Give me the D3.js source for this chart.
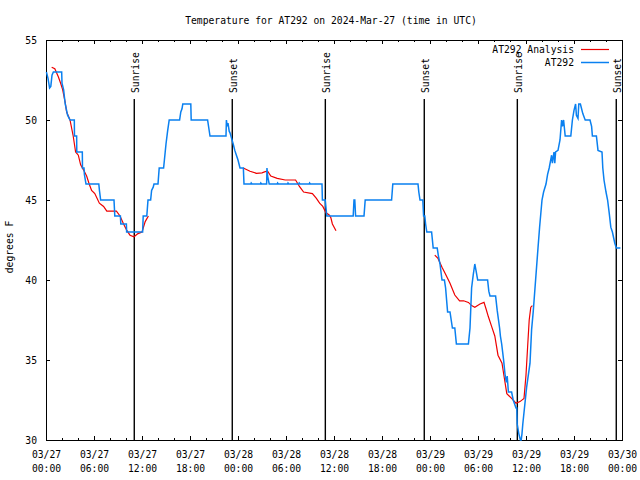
<!DOCTYPE html>
<html><head><meta charset="utf-8">
<script src="https://cdn.jsdelivr.net/npm/d3@7"></script>
<style>
body{margin:0;background:#fff;}
text{font-family:"DejaVu Sans Mono",monospace;font-size:9.7px;fill:#000;}
</style></head>
<body><svg id="c" width="640" height="480"></svg>
<script>
// ---- data ----
const titleText = "Temperature for AT292 on 2024-Mar-27 (time in UTC)";
const yLabelText = "degrees F";
const startTime = "2024-03-27T00:00Z";
const endTime = "2024-03-30T00:00Z";
const yTicks = [30, 35, 40, 45, 50, 55];
const seriesNames = ["AT292 Analysis", "AT292"];
const sunLabels = ["Sunrise", "Sunset", "Sunrise", "Sunset", "Sunrise", "Sunset"];
const sunTimes = ["2024-03-27T11:02Z", "2024-03-27T23:17Z", "2024-03-28T10:55Z",
                  "2024-03-28T23:17Z", "2024-03-29T10:55Z", "2024-03-29T23:17Z"];
// observations: [hours since start, deg F]
const obs = [
 [0.05,53],[0.25,52.6],[0.45,52],[0.6,52.1],[0.75,52.8],[0.92,53],[1.96,53],[2.0,52.3],[2.2,51.9],
 [2.4,51],[2.7,50.3],[3.0,50],[3.54,50],[3.56,49],[3.83,49],[3.85,48],[4.54,48],[4.56,47],[4.75,47],
 [4.8,46.6],[5.0,46],[6.6,46],[6.68,45.6],[6.83,45],[8.5,45],[8.55,44.5],[8.6,44],[9.3,44],[9.35,43.5],
 [10.05,43.5],[10.08,43],[12.08,43],[12.15,44],[12.6,44],[12.75,45],[13.08,45],[13.2,45.6],[13.4,45.8],
 [13.5,46],[14.0,46],[14.15,47],[14.7,47],[14.8,47.5],[14.9,48],[15.0,48.5],[15.2,49.3],[15.4,50],
 [16.7,50],[16.85,50.5],[17.0,50.7],[17.1,51],[18.1,51],[18.15,50],[20.2,50],[20.35,49.5],[20.5,49],
 [22.5,49],[22.55,50],[22.65,49.6],[22.75,49.8],[22.9,49.3],[23.0,49.2],[23.2,48.85],[23.4,48.5],
 [23.6,48.1],[23.8,47.8],[24.0,47.5],[24.25,47],[24.67,47],[24.75,46],[25.6,46],[25.65,46.06],[25.75,46],
 [26.8,46],[26.85,46.06],[26.95,46],[27.58,46],[27.62,47],[27.7,46.5],[27.9,46],[28.9,46],[28.95,46.06],
 [29.05,46],[30.2,46],[30.25,46.06],[30.35,46],[31.6,46],[31.65,46.06],[31.75,46],[32.9,46],[32.95,46.06],
 [33.05,46],[34.5,46],[34.55,45],[34.9,45],[35.0,44.5],[35.1,44],[38.4,44],[38.5,45],[38.6,45],[38.7,44],
 [39.75,44],[39.9,45],[43.2,45],[43.35,46],[46.5,46],[46.6,45.5],[46.75,45],[47.1,45],[47.2,44],[47.35,44],
 [47.45,43.5],[47.6,43],[48.2,43],[48.4,42],[48.9,42],[49.05,41.5],[49.25,41],[49.5,40],[49.8,40],
 [49.95,39.5],[50.2,38],[50.5,38],[50.65,37.5],[50.8,37],[51.1,37],[51.3,36],[52.8,36],[53.0,37],
 [53.2,39.5],[53.4,40.3],[53.6,41],[53.75,40.6],[53.96,40],[55.2,40],[55.35,39.3],[55.5,39],[56.2,39],
 [56.4,38.1],[56.7,37],[56.8,36.5],[56.96,36],[57.2,35],[57.4,34],[57.55,33.6],[57.65,34],[57.8,33],
 [58.2,33],[58.4,32.5],[58.75,32],[58.85,32],[58.9,31],[59.1,30.4],[59.3,30],[59.4,30],[59.5,30.4],
 [59.6,31],[60.08,33.3],[60.5,34.8],[60.7,36.9],[60.9,38],[61.2,40],[61.5,42],[61.7,43.3],[62.0,45],
 [62.2,45.5],[62.5,46],[62.7,46.6],[62.9,47],[63.2,47.8],[63.3,47.3],[63.5,48],[63.6,47.3],[63.7,48],
 [64.0,48.1],[64.25,48.75],[64.45,50],[64.55,49.6],[64.7,50],[64.9,49],[65.6,49],[65.8,50],[66.0,50.6],
 [66.2,51],[66.3,50.3],[66.5,50.1],[66.6,51],[66.8,51],[66.9,50.8],[67.1,50.4],[67.4,50],[68.0,50],
 [68.2,49.6],[68.3,49],[68.8,49],[69.0,48.1],[69.5,48],[69.6,47],[69.75,46.25],[70.0,45.5],[70.2,45],
 [70.4,44.2],[70.6,43.3],[70.8,43],[71.1,42.3],[71.3,42],[71.8,42]
];
// analysis segments: [hours since start, deg F]
const analysis1 = [
 [0.71,53.3],[1.1,53.2],[1.54,52.7],[1.83,52.3],[2.08,51.9],[2.4,51.1],[2.58,50.5],[3.0,50],[3.4,49],
 [3.7,48],[4.04,47.8],[4.33,47.2],[4.67,46.9],[5.08,46.5],[5.4,46],[5.7,45.6],[6.1,45.4],[6.67,44.8],
 [7.2,44.6],[7.6,44.3],[8.2,44.3],[8.8,44.3],[9.25,44],[9.7,43.5],[10.1,43.1],[10.5,42.8],[11.0,42.7],
 [11.5,42.9],[12.0,43],[12.4,43.65],[12.8,44]
];
const analysis2 = [
 [24.66,47],[25.5,46.8],[26.3,46.67],[27.0,46.7],[27.4,46.77],[27.7,46.8],[28.1,46.5],[28.9,46.35],
 [29.9,46.25],[31.2,46.25],[31.7,45.83],[32.2,45.5],[33.3,45.4],[33.8,45.1],[34.2,44.8],[34.6,44.6],
 [35.0,44.2],[35.4,44.06],[35.6,43.9],[35.8,43.5],[36.25,43.08]
];
const analysis3 = [
 [48.6,41.56],[49.0,41.35],[49.5,40.8],[49.9,40.4],[50.5,39.8],[51.1,39.06],[51.7,38.7],[52.2,38.7],
 [52.8,38.6],[53.2,38.4],[53.6,38.3],[54.25,38.5],[54.75,38.6],[55.0,38.2],[55.3,37.7],[55.7,37.1],
 [56.1,36.5],[56.5,35.3],[57.0,34.8],[57.25,34],[57.6,32.9],[58.2,32.6],[58.75,32.3],[59.25,32.4],
 [59.75,32.6],[60.0,34.06],[60.2,35.8],[60.4,37.5],[60.6,38.3],[60.8,38.4]
];

// ---- chart ----
const L = 46, R = 622, T = 40, B = 440;
const red = "#ee0000", blue = "#0a80f0";
const svg = d3.select("#c");
const t0 = new Date(startTime), t1 = new Date(endTime);
const toDate = h => new Date(+t0 + h * 3600e3);
const x = d3.scaleUtc().domain([t0, t1]).range([L, R]);
const y = d3.scaleLinear().domain([30, 55]).range([B, T]);

// ticks
const major = d3.utcHour.every(6).range(t0, d3.utcHour.offset(t1, 1));
const minor = d3.utcHour.every(2).range(t0, t1).filter(d => d.getUTCHours() % 6 !== 0);

function clean(g){ g.select(".domain").remove(); g.selectAll("line").attr("stroke","#000").attr("shape-rendering","crispEdges"); }

svg.append("g").attr("transform", `translate(0,${B})`)
  .call(d3.axisBottom(x).tickValues(major).tickSizeInner(-4).tickSizeOuter(0).tickFormat(d3.utcFormat("%m/%d")))
  .call(clean)
  .call(g => g.selectAll(".tick text").each(function(d){
     const t = d3.select(this); t.text(null).attr("y", 0).attr("dy", null);
     t.append("tspan").attr("x", 0).attr("y", 17.5).text(d3.utcFormat("%m/%d")(d));
     t.append("tspan").attr("x", 0).attr("y", 31.5).text(d3.utcFormat("%H:%M")(d));
  }));
svg.append("g").attr("transform", `translate(0,${B})`)
  .call(d3.axisBottom(x).tickValues(minor).tickSizeInner(-2).tickSizeOuter(0).tickFormat(""))
  .call(clean);
svg.append("g").attr("transform", `translate(0,${T})`)
  .call(d3.axisTop(x).tickValues(major).tickSizeInner(-4).tickSizeOuter(0).tickFormat(""))
  .call(clean);
svg.append("g").attr("transform", `translate(0,${T})`)
  .call(d3.axisTop(x).tickValues(minor).tickSizeInner(-2).tickSizeOuter(0).tickFormat(""))
  .call(clean);
svg.append("g").attr("transform", `translate(${L},0)`)
  .call(d3.axisLeft(y).tickValues(yTicks).tickSizeInner(-4).tickSizeOuter(0).tickPadding(9))
  .call(clean)
  .call(g => g.selectAll(".tick text").attr("dy", "0.35em"));
svg.append("g").attr("transform", `translate(${R},0)`)
  .call(d3.axisRight(y).tickValues(yTicks).tickSizeInner(-4).tickSizeOuter(0).tickFormat(""))
  .call(clean);
svg.selectAll("g").attr("font-family", null).attr("font-size", null);

// frame
svg.append("rect").attr("x", L + 0.5).attr("y", T + 0.5).attr("width", R - L).attr("height", B - T)
  .attr("fill", "none").attr("stroke", "#000").attr("shape-rendering", "crispEdges");

// sun lines
const sun = svg.append("g");
sunTimes.forEach((s, i) => {
  const sx = x(new Date(s));
  sun.append("line").attr("x1", sx).attr("x2", sx).attr("y1", 99).attr("y2", B)
     .attr("stroke", "#000").attr("stroke-width", 1.4);
  sun.append("text").attr("transform", `translate(${sx + 5},93) rotate(-90)`).text(sunLabels[i]);
});

const line = d3.line().x(d => x(toDate(d[0]))).y(d => y(d[1]));
[analysis1, analysis2, analysis3].forEach(seg => {
  svg.append("path").attr("d", line(seg)).attr("fill", "none").attr("stroke", red).attr("stroke-width", 1.2);
});
svg.append("path").attr("d", line(obs)).attr("fill", "none").attr("stroke", blue).attr("stroke-width", 1.5);

// legend
const lg = svg.append("g");
[red, blue].forEach((c, i) => {
  const ly = 49.5 + i * 13;
  lg.append("text").attr("x", 574).attr("y", ly + 3.5).attr("text-anchor", "end").text(seriesNames[i]);
  lg.append("line").attr("x1", 581).attr("x2", 609).attr("y1", ly).attr("y2", ly)
    .attr("stroke", c).attr("stroke-width", i ? 1.5 : 1.2);
});

// title & y label
svg.append("text").attr("x", 331).attr("y", 23.5).attr("text-anchor", "middle").text(titleText);
svg.append("text").attr("transform", "translate(13,247) rotate(-90)").attr("text-anchor", "middle").text(yLabelText);
</script></body></html>
